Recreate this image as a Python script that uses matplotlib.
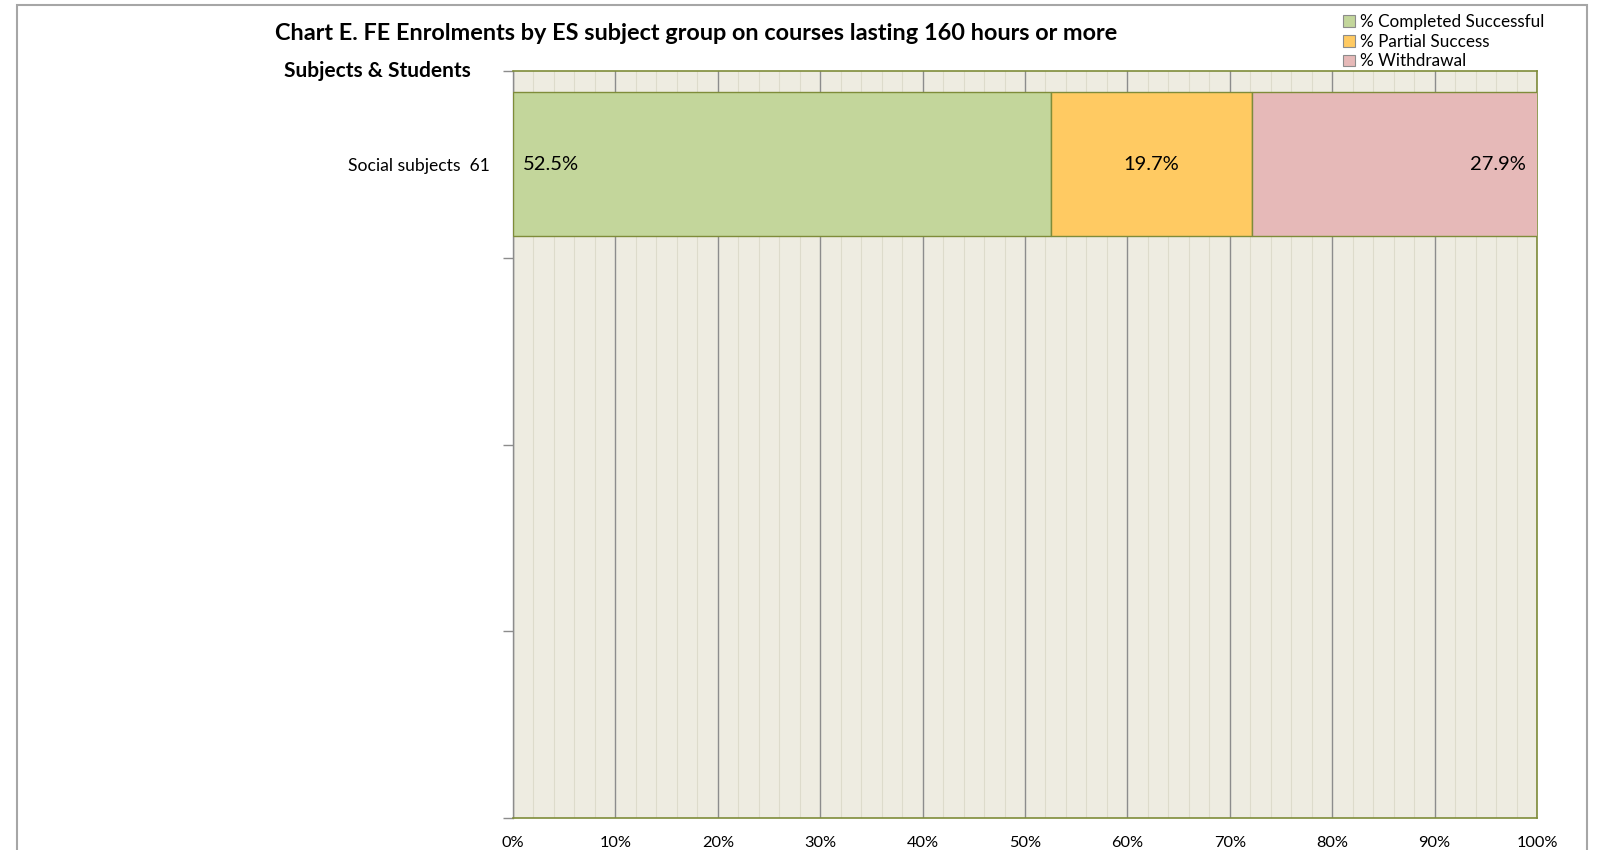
import matplotlib
matplotlib.use("Agg")
import matplotlib.pyplot as plt
from matplotlib.patches import Rectangle, Patch
import numpy as np

plt.rcParams['font.family'] = ['Lato', 'DejaVu Sans']

title = "Chart E. FE Enrolments by ES subject group on courses lasting 160 hours or more"
axis_title = "Subjects & Students"
categories = ["Social subjects  61", "", "", ""]
series_names = ["% Completed Successful", "% Partial Success", "% Withdrawal"]
completed = [52.5, None, None, None]
partial = [19.7, None, None, None]
withdrawal = [27.9, None, None, None]
x_ticks = [0, 10, 20, 30, 40, 50, 60, 70, 80, 90, 100]
x_tick_labels = ["0%", "10%", "20%", "30%", "40%", "50%", "60%", "70%", "80%", "90%", "100%"]

colors = ["#C3D69B", "#FFCA62", "#E6B9B8"]
edge = "#7F8C3A"
bg = "#EEECE1"

fig = plt.figure(figsize=(16.05, 8.5), dpi=100)
W, H = 1605, 850

# chart frame
fig.patches.append(Rectangle((17 / W, -0.1), (1587 - 17) / W, 1.1 - 5 / H,
                             transform=fig.transFigure, fill=False,
                             edgecolor="#A6A6A6", linewidth=1.5))

ax = fig.add_axes([513 / W, 1 - 818 / H, (1537 - 513) / W, (818 - 71) / H])
ax.set_facecolor(bg)

y = np.arange(len(categories))
series = [completed, partial, withdrawal]
idx = [i for i in range(len(categories)) if completed[i] is not None]
left = np.zeros(len(idx))
for name, vals, col in zip(series_names, series, colors):
    v = np.array([vals[i] for i in idx], dtype=float)
    ax.barh(y[idx], v, left=left, height=0.77, color=col,
            edgecolor=edge, linewidth=1.0, label=name, zorder=3)
    left = left + v

# data labels
for i in idx:
    c, p, w = completed[i], partial[i], withdrawal[i]
    ax.annotate(f"{c:.1f}%", (0, i), xytext=(7, 0), textcoords="offset points",
                ha="left", va="center", fontsize=14.5, color="black", zorder=4,
                annotation_clip=False)
    ax.text(c + p / 2, i, f"{p:.1f}%", ha="center", va="center",
            fontsize=14.5, color="black", zorder=4)
    ax.annotate(f"{w:.1f}%", (min(c + p + w, 100), i), xytext=(-8, 0),
                textcoords="offset points", ha="right", va="center",
                fontsize=14.5, color="black", zorder=4, annotation_clip=False)

ax.set_xlim(0, 100)
ax.set_ylim(len(categories) - 0.5, -0.5)
ax.set_xticks(x_ticks)
ax.set_xticklabels(x_tick_labels, fontsize=11.8)
ax.set_xticks(np.arange(0, 101, 2), minor=True)
ax.grid(which="major", axis="x", color="#8C8C8C", linewidth=1.0, zorder=1)
ax.grid(which="minor", axis="x", color="#DDDBCB", linewidth=0.8, zorder=0.9)
ax.tick_params(axis="x", which="both", length=0, pad=13)

ax.set_yticks(y)
ax.set_yticklabels(categories, fontsize=12.6)
ax.tick_params(axis="y", which="major", length=0, pad=17)
ax.set_yticks(np.arange(-0.5, len(categories), 1), minor=True)
ax.tick_params(axis="y", which="minor", length=7, color="#8C8C8C", width=1)

for s in ["top", "right", "bottom"]:
    ax.spines[s].set_color(edge)
    ax.spines[s].set_linewidth(1.2)
ax.spines["left"].set_color("#8C8C8C")
ax.spines["left"].set_linewidth(1.0)

fig.text(696 / W, 1 - 34 / H, title, ha="center", va="center",
         fontsize=16.9, fontweight="bold")
fig.text(471 / W, 1 - 71 / H, axis_title, ha="right", va="center",
         fontsize=15, fontweight="bold")

handles = [Patch(facecolor=c, edgecolor="#8C8C8C", linewidth=0.8) for c in colors]
leg = fig.legend(handles, series_names, loc="upper left",
                 bbox_to_anchor=(1331 / W, 1 - 2 / H), frameon=False,
                 fontsize=12.3, handlelength=0.7, handleheight=0.7,
                 handletextpad=0.3, labelspacing=0.22, borderpad=0.2)
leg.set_zorder(10)

fig.savefig("out.png", dpi=100)
